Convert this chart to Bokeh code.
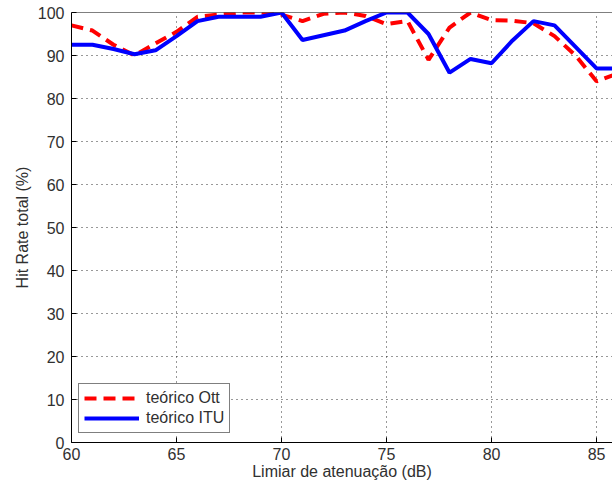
from bokeh.plotting import figure
from bokeh.models import Range1d, Span, Legend, LegendItem, FixedTicker
from bokeh.embed import file_html
from bokeh.resources import INLINE

# Data
x_db = [60, 61, 62, 63, 64, 65, 66, 67, 68, 69, 70, 71, 72, 73,
        74, 75, 76, 77, 78, 79, 80, 81, 82, 83, 84, 85, 86]
ott = [97, 95.8, 92.5, 90, 92.8, 95.5, 99, 99.5, 100, 100, 99.5, 98, 99.7, 100,
       99.2, 97.3, 98, 89, 96.5, 100, 98.2, 98.1, 97.5, 94.5, 90, 84, 85.8]
itu = [92.5, 92.5, 91.5, 90.3, 91.2, 94.5, 98, 99, 99, 99, 100, 93.6, 94.7, 95.8,
       98, 100, 100, 95, 86, 89.2, 88.2, 93.5, 98, 97, 92, 87, 87]
x_ticks = [60, 65, 70, 75, 80, 85]
y_ticks = [0, 10, 20, 30, 40, 50, 60, 70, 80, 90, 100]
label_ott = "teórico Ott"
label_itu = "teórico ITU"
x_label = "Limiar de atenuação (dB)"
y_label = "Hit Rate total (%)"

FONT = "Liberation Sans"
FS = "16px"
TXT = "#303030"

p = figure(width=612, height=493, output_backend="svg", toolbar_location=None,
           x_range=Range1d(60, 85.76), y_range=Range1d(0, 100),
           min_border_left=71, min_border_top=12, min_border_bottom=51,
           min_border_right=0)
p.outline_line_color = None
p.background_fill_color = "white"
p.border_fill_color = "white"

r_ott = p.line(x_db, ott, line_color="#ff0000", line_width=4, line_dash="12 7")
r_itu = p.line(x_db, itu, line_color="#0000ff", line_width=4)

# top box line
p.add_layout(Span(location=100, dimension="width", line_color="black", line_width=1))

for ax in (p.xaxis[0], p.yaxis[0]):
    ax.major_tick_in = 5
    ax.major_tick_out = 0
    ax.minor_tick_line_color = None
    ax.axis_line_color = "black"
    ax.major_tick_line_color = "black"
    ax.major_label_text_font = FONT
    ax.major_label_text_font_size = FS
    ax.major_label_text_color = TXT
    ax.axis_label_text_font = FONT
    ax.axis_label_text_font_size = FS
    ax.axis_label_text_font_style = "normal"
    ax.axis_label_text_color = TXT

p.xaxis.ticker = FixedTicker(ticks=x_ticks)
p.yaxis.ticker = FixedTicker(ticks=y_ticks)
p.xaxis.axis_label = x_label
p.yaxis.axis_label = y_label
p.xaxis.major_label_standoff = 5
p.xaxis.axis_label_standoff = 0
p.yaxis.major_label_standoff = 7
p.yaxis.axis_label_standoff = 4

for g in (p.xgrid[0], p.ygrid[0]):
    g.grid_line_color = "black"
    g.grid_line_dash = "1 4"
    g.grid_line_width = 1
    g.grid_line_alpha = 0.8

legend = Legend(items=[LegendItem(label=label_ott, renderers=[r_ott]),
                       LegendItem(label=label_itu, renderers=[r_itu])],
                location=(7, 9), orientation="vertical")
legend.border_line_color = "black"
legend.border_line_width = 1
legend.background_fill_color = "white"
legend.background_fill_alpha = 1
legend.label_text_font = FONT
legend.label_text_font_size = FS
legend.label_text_color = TXT
legend.glyph_width = 55
legend.glyph_height = 18
legend.label_standoff = 7
legend.padding = 5
legend.spacing = 2
legend.margin = 0
p.add_layout(legend, "center")

open("out.html", "w").write(file_html(p, INLINE))
